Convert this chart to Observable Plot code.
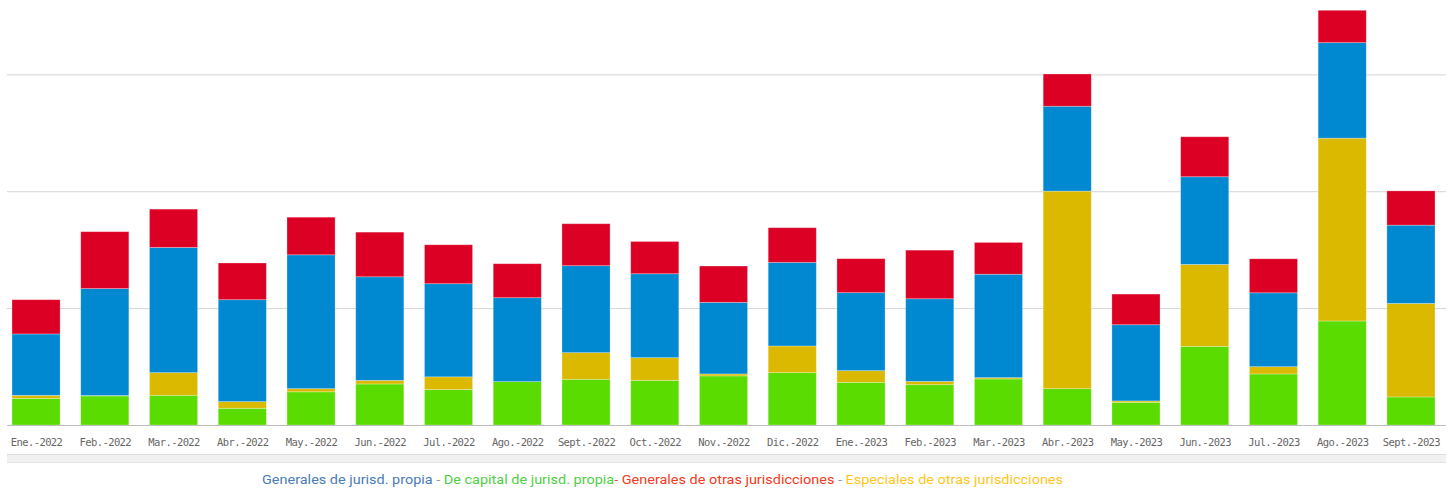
<!DOCTYPE html>
<html>
<head>
<meta charset="utf-8">
<script src="https://cdn.jsdelivr.net/npm/d3@7"></script>
<script src="https://cdn.jsdelivr.net/npm/@observablehq/plot@0.6"></script>
<style>
  html, body { margin: 0; padding: 0; background: #fff; }
  #wrap { position: relative; width: 1453px; height: 488px; overflow: hidden; }
  #scroll { position: absolute; left: 7px; top: 454px; width: 1439px; height: 7px;
            background: #f1f1f1; border-top: 1px solid #dcdcdc; border-bottom: 1px solid #e4e4e4; }
  #legend { position: absolute; left: 0; top: 462px; }
</style>
</head>
<body>
<div id="wrap">
  <div id="chart"></div>
  <div id="scroll"></div>
  <svg id="legend" width="1453" height="26"></svg>
</div>
<script>
const months = ["Ene.-2022","Feb.-2022","Mar.-2022","Abr.-2022","May.-2022","Jun.-2022","Jul.-2022","Ago.-2022","Sept.-2022","Oct.-2022","Nov.-2022","Dic.-2022","Ene.-2023","Feb.-2023","Mar.-2023","Abr.-2023","May.-2023","Jun.-2023","Jul.-2023","Ago.-2023","Sept.-2023"];

const seriesNames = ["De capital de jurisd. propia","Especiales de otras jurisdicciones","Generales de jurisd. propia","Generales de otras jurisdicciones"];
const seriesColors = ["#5bdc00","#dbb900","#0088d1","#dc0024"];

// bottom to top
const deCapitalPropia   = [22.8,24.9,25.4,14.3,28.4,35.1,30.3,37.1,39.1,38.2,42.0,44.8,36.5,34.5,39.4,31.1,19.4,67.3,43.7,89.0,24.0];
const especialesOtras   = [2.6,0.3,19.4,5.7,2.7,3.1,10.9,0,22.8,19.4,1.7,22.8,10.0,2.8,1.1,169.0,1.2,70.1,6.2,156.4,80.0];
const generalesPropia   = [52.5,91.5,107.1,87.2,114.5,88.6,79.7,71.8,74.4,71.8,61.2,71.5,66.7,70.7,88.5,72.6,65.2,75.0,63.2,81.7,67.0];
const generalesOtras    = [29.3,48.7,32.8,31.4,32.2,38.2,33.3,29.1,35.9,27.6,31.1,29.7,29.1,41.6,27.2,27.6,26.2,34.2,29.1,27.7,29.3];

const gridValues = [100, 200, 300];

const seriesValues = [deCapitalPropia, especialesOtras, generalesPropia, generalesOtras];
const data = [];
seriesNames.forEach((s, i) => {
  months.forEach((m, j) => data.push({month: m, series: s, value: seriesValues[i][j]}));
});

const chart = Plot.plot({
  width: 1453,
  height: 452,
  marginLeft: 7,
  marginRight: 7,
  marginTop: 0,
  marginBottom: 27,
  style: {fontFamily: "'DejaVu Sans Mono', monospace", fontSize: "10.5px", letterSpacing: "-0.6px", background: "#fff"},
  x: {domain: months, range: [12, 1435], paddingInner: 0.3, paddingOuter: 0, round: false, label: null},
  y: {domain: [0, 363.6], axis: null},
  color: {domain: seriesNames, range: seriesColors},
  marks: [
    Plot.ruleY(gridValues, {stroke: "#d4d4d4", strokeWidth: 1}),
    Plot.barY(data, {x: "month", y: "value", z: "series", fill: "series", stroke: "#ffffff", strokeOpacity: 0.35, strokeWidth: 0.8}),
    Plot.ruleY([0], {stroke: "#bdbdbd", strokeWidth: 1.2}),
    Plot.axisX({tickSize: 0, tickPadding: 13, color: "#666", label: null})
  ]
});
document.getElementById("chart").appendChild(chart);

// legend as real text
const legendParts = [
  {text: "Generales de jurisd. propia", color: "#4a7cb4"},
  {text: " - ", color: "#8a9bb0"},
  {text: "De capital de jurisd. propia", color: "#4fcf45"},
  {text: "- ", color: "#f04a3a"},
  {text: "Generales de otras jurisdicciones", color: "#f23a22"},
  {text: " - ", color: "#8a9bb0"},
  {text: "Especiales de otras jurisdicciones", color: "#ffc61a"}
];
const lg = d3.select("#legend");
const t = lg.append("text")
  .attr("x", 262).attr("y", 22)
  .attr("textLength", 801).attr("lengthAdjust", "spacingAndGlyphs")
  .attr("xml:space", "preserve")
  .style("font-family", "Roboto, 'Open Sans', sans-serif")
  .style("font-size", "13.5px");
legendParts.forEach(p => t.append("tspan").attr("fill", p.color).text(p.text).style("white-space", "pre"));
</script>
</body>
</html>
